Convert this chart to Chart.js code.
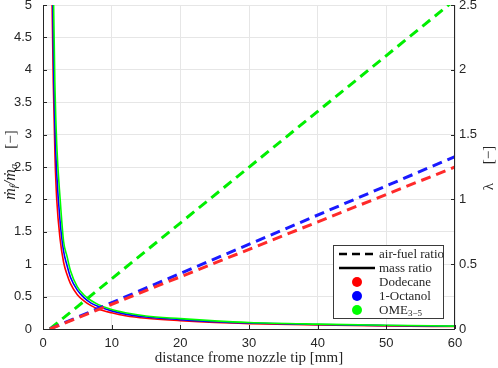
<!DOCTYPE html>
<html>
<head>
<meta charset="utf-8">
<script src="https://cdn.jsdelivr.net/npm/chart.js@4"></script>
<style>
html,body{margin:0;padding:0;background:#fff}
#wrap{position:relative;width:498px;height:368px}
#legend{position:absolute;left:333px;top:245px;width:111px;height:74px;border:1px solid #3a3a3a;background:#fff;box-sizing:border-box;font:13px 'Liberation Serif','DejaVu Serif',serif;color:#262626}
#legend .row{position:absolute;left:0;width:110px;height:14px;line-height:14px}
#legend svg{position:absolute;left:0;top:0}
#legend span{position:absolute;left:45px;top:0;white-space:nowrap}
#legend sub{font-size:9px;vertical-align:-2px;line-height:0}
</style>
</head>
<body>
<div id="wrap">
  <canvas id="c" width="498" height="368"></canvas>
  <div id="legend">
    <div class="row" style="top:1px"><svg width="44" height="14"><line x1="5" y1="7" x2="41" y2="7" stroke="#000" stroke-width="2.5" stroke-dasharray="8,5"/></svg><span>air-fuel ratio</span></div>
    <div class="row" style="top:15px"><svg width="44" height="14"><line x1="5" y1="7" x2="41" y2="7" stroke="#000" stroke-width="2.5"/></svg><span>mass ratio</span></div>
    <div class="row" style="top:29px"><svg width="44" height="14"><circle cx="23" cy="7" r="5" fill="#ff0000"/></svg><span>Dodecane</span></div>
    <div class="row" style="top:43px"><svg width="44" height="14"><circle cx="23" cy="7" r="5" fill="#0000ff"/></svg><span>1-Octanol</span></div>
    <div class="row" style="top:57px"><svg width="44" height="14"><circle cx="23" cy="7" r="5" fill="#00ff00"/></svg><span>OME<sub>3−5</sub></span></div>
  </div>
</div>
<script>
// distance from nozzle tip [mm]
const xMass=[1.3,1.5,1.75,2,2.5,3,3.5,4,5,6,7,8,10,12,15,20,25,30,40,50,60];
// mass ratio m_f/m_a (left axis)
const massDodecane=[5.2,3.8,2.65,2.0,1.38,1.03,0.84,0.7,0.53,0.43,0.36,0.31,0.25,0.205,0.165,0.128,0.1,0.083,0.062,0.048,0.038];
const massOctanol=[6.5,4.4,3.1,2.4,1.65,1.2,0.98,0.8,0.6,0.48,0.4,0.35,0.28,0.23,0.185,0.145,0.112,0.092,0.069,0.054,0.042];
const massOME=[8.0,5.3,3.7,2.85,2.0,1.35,1.12,0.9,0.65,0.52,0.44,0.38,0.3,0.25,0.2,0.16,0.125,0.1,0.075,0.058,0.045];
// air-fuel ratio lambda (right axis)
const xLambda=[1,60];
const lamDodecane=[0,1.25];
const lamOctanol=[0,1.33];
const lamOME=[0,2.54];

const pts=(xs,ys)=>xs.map((x,i)=>({x:x,y:ys[i]}));
const TXT='#262626';
const tickFont={family:"'Liberation Sans', Arial, sans-serif",size:13};
const fmt=v=>String(parseFloat(Number(v).toFixed(2)));

const solid=(data,col)=>({data:pts(xMass,data),yAxisID:'y',borderColor:col,borderWidth:1.6,pointRadius:0,fill:false,cubicInterpolationMode:'monotone'});
const dashed=(data,col)=>({data:pts(xLambda,data),yAxisID:'y2',borderColor:col,borderWidth:3,borderDash:[10,6],pointRadius:0,fill:false});
const noPad=s=>{s.paddingTop=0;s.paddingBottom=0;s.paddingLeft=0;s.paddingRight=0;};

const frame={
  id:'frame',
  afterDraw(ch){
    const c=ch.ctx, a=ch.chartArea;
    c.save();
    c.strokeStyle=TXT; c.lineWidth=1;
    c.beginPath();
    c.moveTo(a.left+0.5,a.top); c.lineTo(a.left+0.5,a.bottom+0.5);
    c.lineTo(a.right-0.5,a.bottom+0.5); c.lineTo(a.right-0.5,a.top);
    // inward ticks
    ch.scales.x.ticks.forEach(t=>{const p=Math.round(ch.scales.x.getPixelForValue(t.value))+0.5;c.moveTo(p,a.bottom);c.lineTo(p,a.bottom-4);});
    ch.scales.y.ticks.forEach(t=>{const p=Math.round(ch.scales.y.getPixelForValue(t.value))+0.5;c.moveTo(a.left,p);c.lineTo(a.left+4,p);});
    ch.scales.y2.ticks.forEach(t=>{const p=Math.round(ch.scales.y2.getPixelForValue(t.value))+0.5;c.moveTo(a.right,p);c.lineTo(a.right-4,p);});
    c.stroke();
    c.fillStyle=TXT;
    // x title
    c.font="15px 'Liberation Serif','DejaVu Serif',serif";
    c.textAlign='center'; c.textBaseline='middle';
    c.fillText('distance frome nozzle tip [mm]',(a.left+a.right)/2,358);
    // left title (rotated)
    const runs=[
      {t:'ṁ',f:"italic 16px 'Liberation Serif','DejaVu Serif',serif",dy:0},
      {t:'f',f:"italic 11px 'Liberation Serif','DejaVu Serif',serif",dy:3},
      {t:'/ṁ',f:"italic 16px 'Liberation Serif','DejaVu Serif',serif",dy:0},
      {t:'a',f:"italic 11px 'Liberation Serif','DejaVu Serif',serif",dy:3},
      {t:'    [−]',f:"15px 'Liberation Serif','DejaVu Serif',serif",dy:0}
    ];
    let w=0;
    runs.forEach(r=>{c.font=r.f;r.w=c.measureText(r.t).width;w+=r.w;});
    c.save();
    c.translate(11,165); c.rotate(-Math.PI/2);
    c.textAlign='left';
    let x=-w/2;
    runs.forEach(r=>{c.font=r.f;c.fillText(r.t,x,r.dy);x+=r.w;});
    c.restore();
    // right title (rotated, bottom to top)
    c.save();
    c.translate(489,168); c.rotate(-Math.PI/2);
    c.font="15px 'Liberation Serif','DejaVu Serif',serif";
    c.textAlign='center';
    c.fillText('λ     [−]',0,0);
    c.restore();
    c.restore();
  }
};

new Chart(document.getElementById('c'),{
  type:'line',
  data:{datasets:[
    dashed(lamDodecane,'#ff2a2a'),
    dashed(lamOctanol,'#1a1aff'),
    dashed(lamOME,'#00ee00'),
    solid(massOME,'#00ff00'),
    solid(massOctanol,'#0000ff'),
    solid(massDodecane,'#ff0000')
  ]},
  options:{
    responsive:false,animation:false,
    layout:{padding:{top:5,left:0,right:0,bottom:0}},
    plugins:{legend:{display:false},tooltip:{enabled:false}},
    scales:{
      x:{type:'linear',min:0,max:60,
        ticks:{stepSize:10,color:TXT,font:tickFont,padding:7,maxRotation:0,callback:fmt},
        grid:{color:'#e6e6e6',drawTicks:false},border:{display:false},
        afterFit(s){s.height=39;noPad(s);}},
      y:{type:'linear',position:'left',min:0,max:5,
        ticks:{stepSize:0.5,color:TXT,font:tickFont,padding:11,callback:fmt},
        grid:{color:'#e6e6e6',drawTicks:false},border:{display:false},
        afterFit(s){s.width=43;noPad(s);}},
      y2:{type:'linear',position:'right',min:0,max:2.5,
        ticks:{stepSize:0.5,color:TXT,font:tickFont,padding:4,callback:fmt},
        grid:{drawOnChartArea:false,drawTicks:false},border:{display:false},
        afterFit(s){s.width=43;noPad(s);}}
    }
  },
  plugins:[frame]
});
</script>
</body>
</html>
